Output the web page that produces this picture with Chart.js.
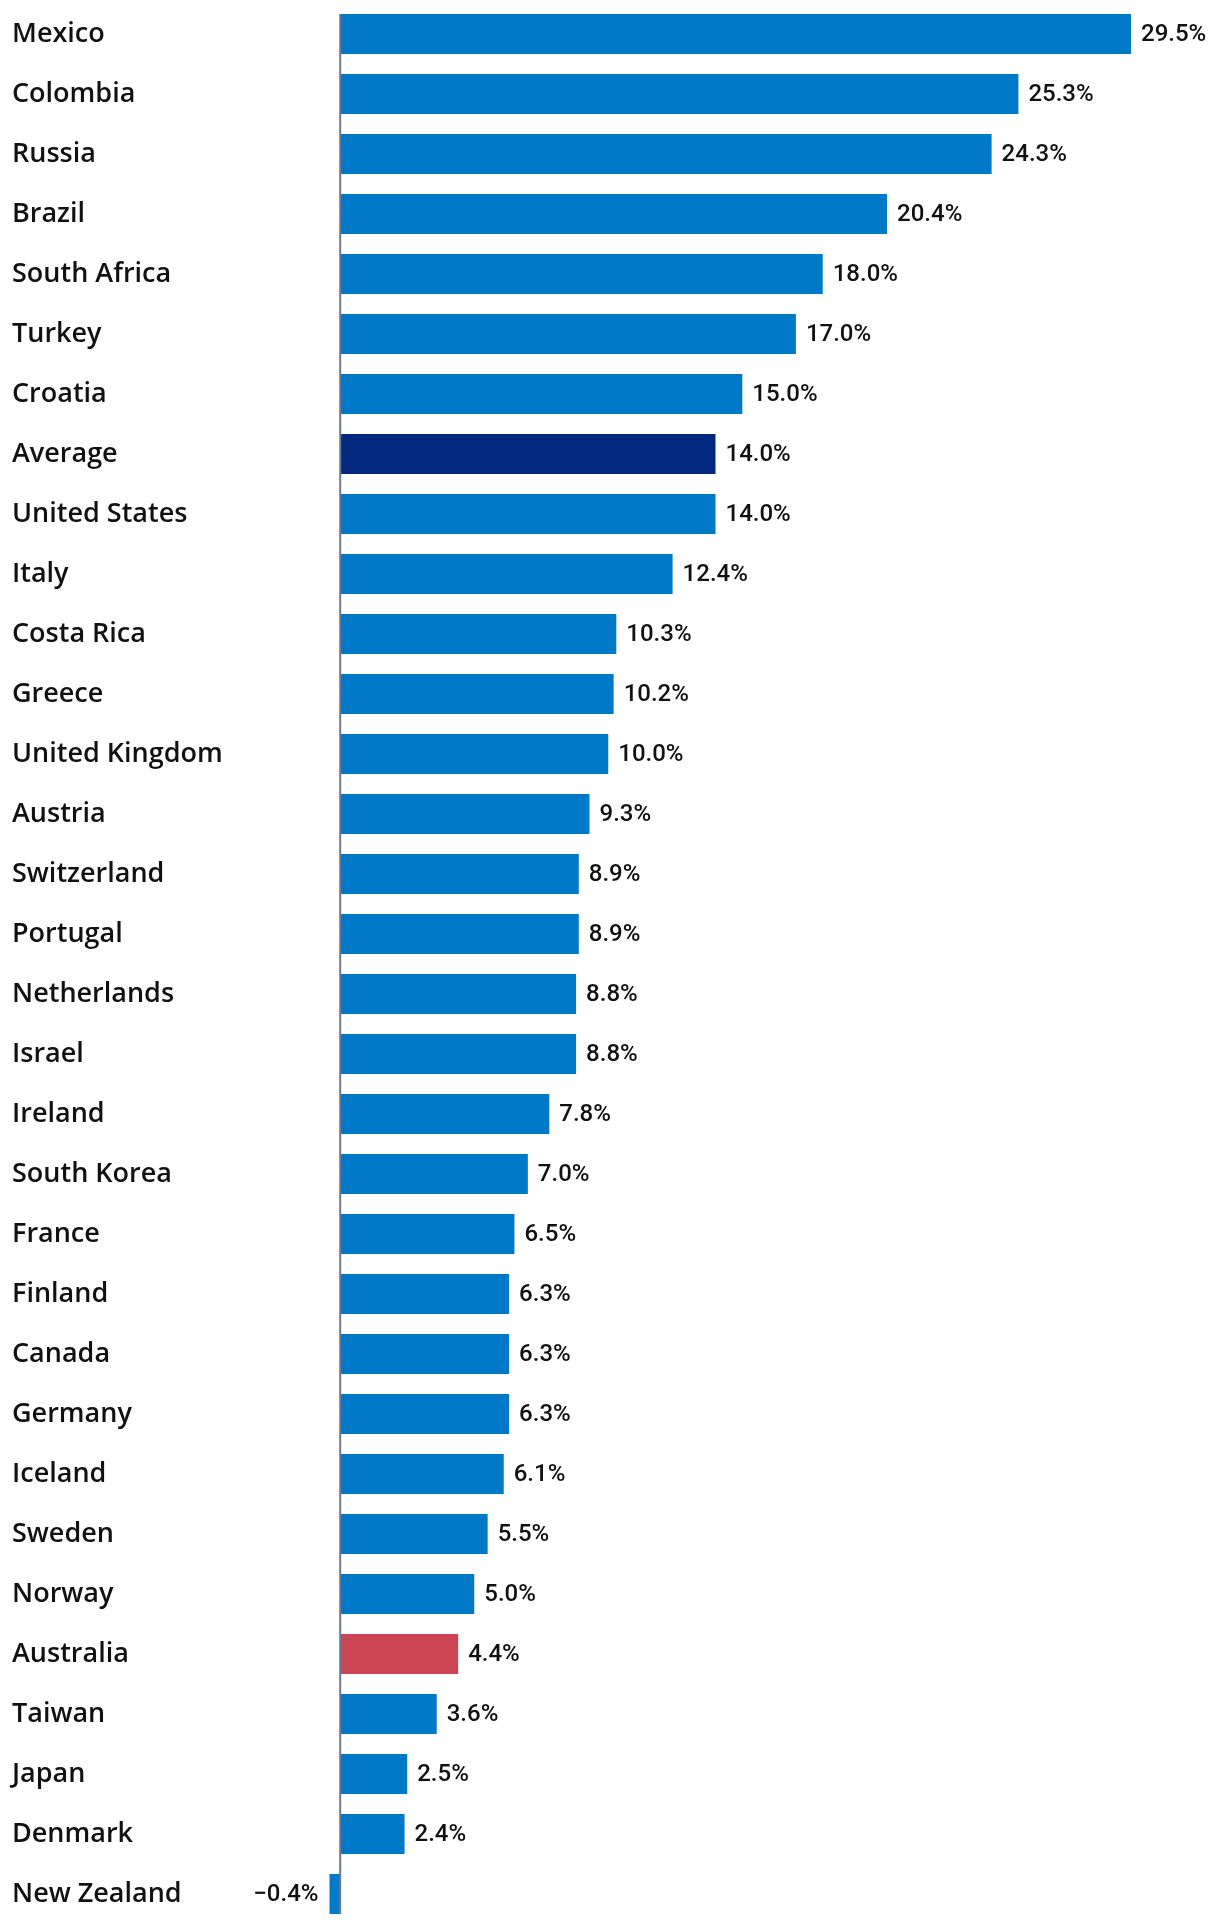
<!DOCTYPE html>
<html lang="en">
<head>
    <meta charset="UTF-8">
    <title>Bar chart</title>
    <script src="https://cdn.jsdelivr.net/npm/chart.js"></script>
    <style>
        html, body { margin: 0; padding: 0; background: #fff; }
        #wrap { width: 1220px; height: 1928px; }
    </style>
</head>
<body>
    <div id="wrap"><canvas id="chart"></canvas></div>

    <script>
        // Data
        const countries = ['Mexico', 'Colombia', 'Russia', 'Brazil', 'South Africa', 'Turkey', 'Croatia', 'Average',
            'United States', 'Italy', 'Costa Rica', 'Greece', 'United Kingdom', 'Austria', 'Switzerland', 'Portugal',
            'Netherlands', 'Israel', 'Ireland', 'South Korea', 'France', 'Finland', 'Canada', 'Germany',
            'Iceland', 'Sweden', 'Norway', 'Australia', 'Taiwan', 'Japan', 'Denmark', 'New Zealand'];
        const values = [29.5, 25.3, 24.3, 20.4, 18.0, 17.0, 15.0, 14.0,
            14.0, 12.4, 10.3, 10.2, 10.0, 9.3, 8.9, 8.9,
            8.8, 8.8, 7.8, 7.0, 6.5, 6.3, 6.3, 6.3,
            6.1, 5.5, 5.0, 4.4, 3.6, 2.5, 2.4, -0.4];
        const highlights = { 'Average': '#00287f', 'Australia': '#cc4555' };

        const baseColor = '#0079c8';
        const barColors = countries.map(c => highlights[c] || baseColor);
        const nameFont = '600 27px "Open Sans", Roboto, sans-serif';
        const valueFont = '500 24px Roboto, "Noto Sans", sans-serif';

        // country names, value labels and the zero line
        const labelsPlugin = {
            id: 'labelsPlugin',
            afterDatasetsDraw(chart) {
                const ctx = chart.ctx;
                const meta = chart.getDatasetMeta(0);
                ctx.save();
                ctx.fillStyle = '#111';
                ctx.textBaseline = 'middle';

                ctx.font = nameFont;
                ctx.textAlign = 'left';
                meta.data.forEach((bar, i) => {
                    ctx.fillText(countries[i], 12, bar.y);
                });

                ctx.font = valueFont;
                meta.data.forEach((bar, i) => {
                    const v = values[i];
                    const txt = (v < 0 ? '\u2212' : '') + Math.abs(v).toFixed(1) + '%';
                    if (v < 0) {
                        ctx.textAlign = 'right';
                        ctx.fillText(txt, bar.x - 11, bar.y + 1);
                    } else {
                        ctx.textAlign = 'left';
                        ctx.fillText(txt, bar.x + 10, bar.y + 1);
                    }
                });

                const x0 = chart.scales.x.getPixelForValue(0);
                const first = meta.data[0], last = meta.data[meta.data.length - 1];
                ctx.strokeStyle = '#6b7a92';
                ctx.lineWidth = 2;
                ctx.beginPath();
                ctx.moveTo(x0, first.y - first.height / 2);
                ctx.lineTo(x0, last.y + last.height / 2);
                ctx.stroke();
                ctx.restore();
            }
        };

        new Chart(document.getElementById('chart'), {
            type: 'bar',
            data: {
                labels: countries,
                datasets: [{
                    data: values,
                    backgroundColor: barColors,
                    borderWidth: 0,
                    categoryPercentage: 1,
                    barPercentage: 0.667
                }]
            },
            options: {
                indexAxis: 'y',
                responsive: true,
                maintainAspectRatio: false,
                animation: false,
                layout: { padding: { left: 13, right: 22, top: 4, bottom: 4 } },
                plugins: { legend: { display: false }, tooltip: { enabled: false } },
                scales: {
                    x: {
                        min: -1.5,
                        max: 32,
                        display: false
                    },
                    y: {
                        grid: { display: false },
                        border: { display: false },
                        afterFit(scale) { scale.width = 287; },
                        ticks: { display: false }
                    }
                }
            },
            plugins: [labelsPlugin]
        });
    </script>
</body>
</html>
